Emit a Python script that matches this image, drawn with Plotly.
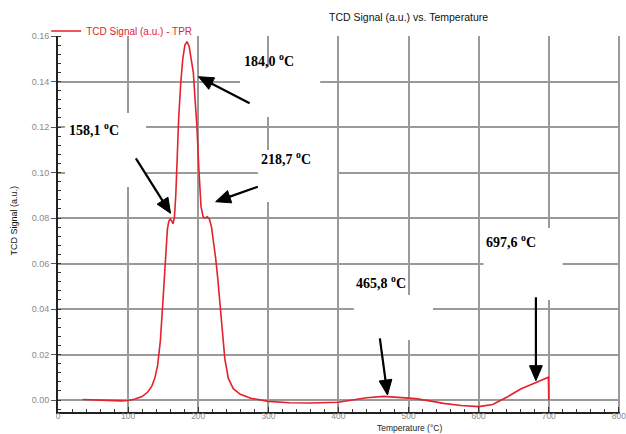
import math
import plotly.graph_objects as go

# ---------------- data ----------------
temperature = [35, 50, 70, 90, 100, 110, 120, 128, 134, 138, 142, 146, 150, 153, 156, 158,
               160, 162, 164, 166, 168, 170, 172, 175, 178, 181, 184, 187, 190, 193, 196,
               198, 201, 204, 207, 210, 213, 216, 219, 222, 225, 228, 231, 234, 238, 243,
               250, 260, 275, 300, 330, 360, 380, 400, 420, 440, 465, 490, 510, 530, 550,
               575, 600, 620, 640, 660, 680, 690, 697, 699.5, 700]
tcd_signal = [0.0002, 0.0000, -0.0003, -0.0004, -0.0002, 0.0004, 0.0015, 0.0035, 0.0062,
              0.0095, 0.0150, 0.0260, 0.0450, 0.0630, 0.0750, 0.0785, 0.0795, 0.0788,
              0.0775, 0.0800, 0.0900, 0.1060, 0.1230, 0.1390, 0.1500, 0.1560, 0.1575,
              0.1555, 0.1500, 0.1440, 0.1300, 0.1210, 0.1010, 0.0850, 0.0805, 0.0800,
              0.0805, 0.0795, 0.0760, 0.0700, 0.0620, 0.0530, 0.0420, 0.0300, 0.0180,
              0.0095, 0.0050, 0.0025, 0.0008, -0.0006, -0.0012, -0.0013, -0.0012, -0.0010,
              0.0000, 0.0010, 0.0016, 0.0012, 0.0006, -0.0004, -0.0015, -0.0024, -0.0029,
              -0.0020, 0.0012, 0.0048, 0.0075, 0.0087, 0.0096, 0.0100, -0.0001]

x_ticks = [0, 100, 200, 300, 400, 500, 600, 700, 800]
y_ticks = [0.00, 0.02, 0.04, 0.06, 0.08, 0.10, 0.12, 0.14, 0.16]
y_tick_labels = ["0.00", "0.02", "0.04", "0.06", "0.08", "0.10", "0.12", "0.14", "0.16"]

peak_labels = ["184,0 <sup>o</sup>C", "158,1 <sup>o</sup>C", "218,7 <sup>o</sup>C",
               "465,8 <sup>o</sup>C", "697,6 <sup>o</sup>C"]

# ---------------- geometry helpers (pixel -> data) ----------------
W, H = 626, 434
L, T_, B = 58, 36, 22
PW, PH = W - L, H - T_ - B
X0_PX, X_SCALE = 58, 496 / 700.0          # px per degree
Y0_PX, Y_SCALE = 400, 364 / 0.16           # px per a.u.

def dx(px):
    return (px - X0_PX) / X_SCALE

def dy(py):
    return (Y0_PX - py) / Y_SCALE

def paper_x(px):
    return (px - L) / PW

def paper_y(py):
    return (H - B - py) / PH

x_max = dx(W)
y_min = dy(H - B)

fig = go.Figure()
fig.add_trace(go.Scatter(
    x=temperature, y=tcd_signal, mode="lines",
    name="TCD Signal (a.u.) - TPR",
    line=dict(color="#e3222e", width=1.6),
))

# white label boxes (over the grid, under the curve)
boxes_px = [(242, 67, 323, 117), (65, 113, 147, 187), (260, 150, 340, 202),
            (357, 295, 437, 340), (488, 228, 568, 300)]
for (x0, y0, x1, y1) in boxes_px:
    fig.add_shape(type="rect", xref="x", yref="y",
                  x0=dx(x0), x1=dx(x1), y0=dy(y1), y1=dy(y0),
                  fillcolor="white", line=dict(width=0), layer="between")

# peak label texts
text_px = [(244, 60), (67, 129), (261, 158), (357, 282), (489, 241)]
for lab, (px, py) in zip(peak_labels, text_px):
    fig.add_annotation(x=dx(px), y=dy(py), xref="x", yref="y", text="<b>" + lab + "</b>",
                       showarrow=False, xanchor="left", yanchor="middle",
                       font=dict(family="Liberation Serif, Times New Roman, serif",
                                 size=14, color="black"))

# arrows (head tip, tail) in px, drawn as line + filled triangle
arrows_px = [((200, 76.7), (251.7, 103.3)),
             ((171.7, 213.3), (136.7, 158.3)),
             ((217.3, 201.7), (260, 186.7)),
             ((391, 395), (383.3, 338.3)),
             ((541, 380.7), (541, 297.3))]
HEAD_LEN, HEAD_HALF = 15, 6.5
for (hx, hy), (tx, ty) in arrows_px:
    vx, vy = hx - tx, hy - ty
    n = math.hypot(vx, vy)
    ux, uy = vx / n, vy / n
    bx, by = hx - ux * HEAD_LEN, hy - uy * HEAD_LEN
    nx, ny = -uy, ux
    fig.add_shape(type="line", xref="x", yref="y",
                  x0=dx(tx), y0=dy(ty), x1=dx(bx + ux * 2), y1=dy(by + uy * 2),
                  line=dict(color="black", width=2.2), layer="above")
    p1 = (dx(hx), dy(hy))
    p2 = (dx(bx + nx * HEAD_HALF), dy(by + ny * HEAD_HALF))
    p3 = (dx(bx - nx * HEAD_HALF), dy(by - ny * HEAD_HALF))
    path = "M {0},{1} L {2},{3} L {4},{5} Z".format(p1[0], p1[1], p2[0], p2[1], p3[0], p3[1])
    fig.add_shape(type="path", xref="x", yref="y", path=path,
                  fillcolor="black", line=dict(color="black", width=1), layer="above")

# title / axis titles
fig.add_annotation(x=paper_x(412), y=paper_y(17), xref="paper", yref="paper",
                   text="TCD Signal (a.u.) vs. Temperature", showarrow=False,
                   xanchor="center", yanchor="middle",
                   font=dict(family="Liberation Sans, Arial, sans-serif", size=10.5, color="#111"))
fig.add_annotation(x=paper_x(413), y=paper_y(434), xref="paper", yref="paper",
                   text="Temperature (°C)", showarrow=False, xanchor="center", yanchor="bottom",
                   borderpad=0,
                   font=dict(family="Liberation Sans, Arial, sans-serif", size=8.5, color="#222"))
fig.add_annotation(x=paper_x(14), y=paper_y(220), xref="paper", yref="paper",
                   text="TCD Signal (a.u.)", showarrow=False, textangle=-90,
                   xanchor="center", yanchor="middle",
                   font=dict(family="Liberation Sans Narrow, Liberation Sans, Arial, sans-serif",
                             size=9, color="#111"))

tick_font = dict(family="Liberation Sans, Arial, sans-serif", size=9, color="#8a8a8a")
x_tick_font = dict(family="Liberation Sans, Arial, sans-serif", size=8.5, color="#8a8a8a")
fig.update_layout(
    width=W, height=H,
    margin=dict(l=L, r=0, t=T_, b=B, pad=0),
    paper_bgcolor="white", plot_bgcolor="white",
    showlegend=True,
    legend=dict(x=paper_x(46), y=paper_y(31),
                xanchor="left", yanchor="middle", bgcolor="rgba(0,0,0,0)",
                font=dict(family="Liberation Sans, Arial, sans-serif", size=10, color="#e3222e"),
                borderwidth=0),
    xaxis=dict(range=[0, x_max], tickvals=x_ticks, ticktext=[str(v) for v in x_ticks],
               showgrid=True, gridcolor="#9a9a9a", gridwidth=1.5,
               showline=True, linecolor="#222", linewidth=2,
               ticks="inside", ticklen=5, tickcolor="#333", tickfont=x_tick_font,
               ticklabeloverflow="allow", ticklabelstandoff=-5,
               minor=dict(dtick=20, ticks="inside", ticklen=3, tickcolor="#333", showgrid=False),
               zeroline=False),
    yaxis=dict(range=[y_min, 0.16], tickvals=y_ticks, ticktext=y_tick_labels,
               showgrid=True, gridcolor="#9a9a9a", gridwidth=1.5,
               showline=True, linecolor="#222", linewidth=2,
               ticks="outside", ticklen=5, tickcolor="#555", tickfont=tick_font,
               minor=dict(dtick=0.004, ticks="inside", ticklen=3, tickcolor="#333", showgrid=False),
               zeroline=False),
)

fig.write_html("out.html")
